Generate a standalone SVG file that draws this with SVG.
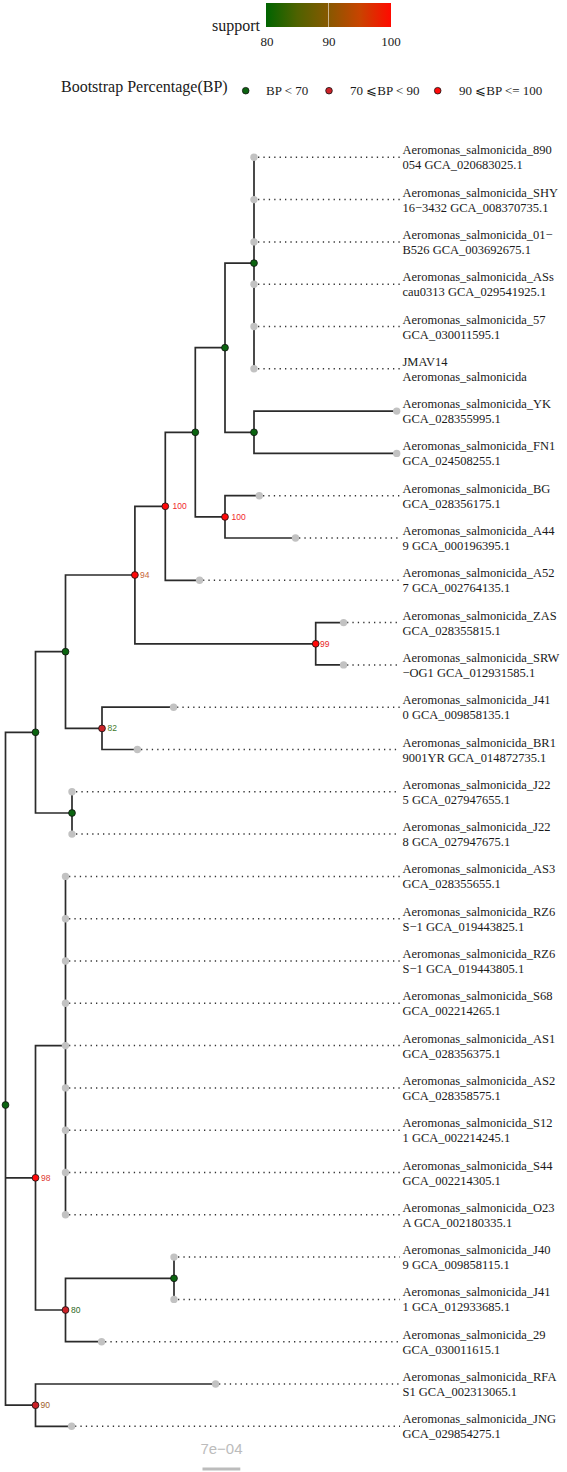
<svg xmlns="http://www.w3.org/2000/svg" width="567" height="1472" viewBox="0 0 567 1472">
<style>
.br{fill:none;stroke:#2b2b2b;stroke-width:1.7;stroke-linecap:square}
.dot{fill:none;stroke:#333333;stroke-width:1.5;stroke-dasharray:1.3 4.1}
.tip{fill:#c2c2c2}
.lab{font-family:"Liberation Serif","Times New Roman",serif;font-size:12.5px;fill:#1a1a1a}
.g{fill:#0b6410;stroke:#111;stroke-width:0.8}
.r{fill:#ff0a0a;stroke:#111;stroke-width:0.8}
.dr{fill:#cc2228;stroke:#111;stroke-width:0.8}
.bs{font-family:"Liberation Sans",Arial,sans-serif;font-size:8.5px}
.leg{font-family:"Liberation Serif","Times New Roman",serif;fill:#1a1a1a}
</style>
<defs>
<linearGradient id="sup" x1="0" y1="0" x2="1" y2="0">
<stop offset="0" stop-color="#006400"/>
<stop offset="0.25" stop-color="#4f6200"/>
<stop offset="0.5" stop-color="#875800"/>
<stop offset="0.75" stop-color="#c84400"/>
<stop offset="1" stop-color="#ff0a00"/>
</linearGradient>
</defs>

<g id="legend-support">
<text class="leg" x="212" y="31" font-size="16">support</text>
<rect x="266" y="3" width="125" height="24" fill="url(#sup)"/>
<line x1="328.5" y1="3" x2="328.5" y2="27" stroke="#ffffff" stroke-opacity="0.7" stroke-width="0.8"/>
<text class="leg" x="267" y="46" font-size="13" text-anchor="middle">80</text>
<text class="leg" x="329" y="46" font-size="13" text-anchor="middle">90</text>
<text class="leg" x="391" y="46" font-size="13" text-anchor="middle">100</text>
</g>

<g id="legend-bp">
<text class="leg" x="61" y="92" font-size="16">Bootstrap Percentage(BP)</text>
<circle class="g" cx="245.7" cy="90.7" r="3.3"/>
<text class="leg" x="266" y="95" font-size="13">BP &lt; 70</text>
<circle class="dr" cx="329" cy="90.7" r="3.3"/>
<text class="leg" x="350" y="95" font-size="13">70 ⩽BP &lt; 90</text>
<circle class="r" cx="437.7" cy="90.7" r="3.3"/>
<text class="leg" x="459" y="95" font-size="13">90 ⩽BP &lt;= 100</text>
</g>

<g id="connectors">
<path class="br" d="
M5.5 732.3V1405.2 M5.5 732.3H35.5 M5.5 1177.8H35.5 M5.5 1405.2H35.5
M35.5 651.7V813 M35.5 651.7H65.5 M35.5 813H72
M72 791.8V834.1
M65.5 575V728.4 M65.5 575H134.9 M65.5 728.4H102
M102 707.2V749.5 M102 707.2H173.6 M102 749.5H137.4
M134.9 506.3V643.8 M134.9 506.3H165.3 M134.9 643.8H315.7
M315.7 622.6V664.9 M315.7 622.6H343.6 M315.7 664.9H343.6
M165.3 432.3V580.3 M165.3 432.3H195.3 M165.3 580.3H199.6
M195.3 347.7V516.9 M195.3 347.7H225 M195.3 516.9H225
M225 263.1V432.3 M225 263.1H254 M225 432.3H254
M254 157.3V368.8
M254 411.1V453.4 M254 411.1H396.7 M254 453.4H396.7
M225 495.7V538 M225 495.7H259.3 M225 538H295.5
M35.5 1045.6V1310 M35.5 1045.6H65.5 M35.5 1310H65.5
M65.5 876.4V1214.8
M65.5 1278.3V1341.7 M65.5 1278.3H174 M65.5 1341.7H101.6
M174 1257.1V1299.4
M35.5 1384V1426.3 M35.5 1384H215.6 M35.5 1426.3H71.6"/>
<path class="dot" d="
M258 157.3H400 M258 199.6H400 M258 241.9H400 M258 284.2H400 M258 326.5H400 M258 368.8H400
M263 495.7H400 M299 538H400 M203 580.3H400 M347 622.6H400 M347 664.9H400
M177 707.2H400 M141 749.5H400 M76 791.8H400 M76 834.1H400
M69 876.4H400 M69 918.7H400 M69 961H400 M69 1003.3H400 M69 1045.6H400 M69 1087.9H400 M69 1130.2H400 M69 1172.5H400 M69 1214.8H400
M178 1257.1H400 M178 1299.4H400 M105 1341.7H400 M219 1384H400 M75 1426.3H400"/>
</g>

<g id="tips" class="lab">
<g id="t0"><circle class="tip" cx="254" cy="157.3" r="3.7"/><text x="402.5" y="154.3">Aeromonas_salmonicida_890<tspan x="402.5" dy="15">054 GCA_020683025.1</tspan></text></g>
<g id="t1"><circle class="tip" cx="254" cy="199.6" r="3.7"/><text x="402.5" y="196.6">Aeromonas_salmonicida_SHY<tspan x="402.5" dy="15">16−3432 GCA_008370735.1</tspan></text></g>
<g id="t2"><circle class="tip" cx="254" cy="241.9" r="3.7"/><text x="402.5" y="238.9">Aeromonas_salmonicida_01−<tspan x="402.5" dy="15">B526 GCA_003692675.1</tspan></text></g>
<g id="t3"><circle class="tip" cx="254" cy="284.2" r="3.7"/><text x="402.5" y="281.2">Aeromonas_salmonicida_ASs<tspan x="402.5" dy="15">cau0313 GCA_029541925.1</tspan></text></g>
<g id="t4"><circle class="tip" cx="254" cy="326.5" r="3.7"/><text x="402.5" y="323.5">Aeromonas_salmonicida_57<tspan x="402.5" dy="15">GCA_030011595.1</tspan></text></g>
<g id="t5"><circle class="tip" cx="254" cy="368.8" r="3.7"/><text x="402.5" y="365.8">JMAV14<tspan x="402.5" dy="15">Aeromonas_salmonicida</tspan></text></g>
<g id="t6"><circle class="tip" cx="396.7" cy="411.1" r="3.7"/><text x="402.5" y="408.1">Aeromonas_salmonicida_YK<tspan x="402.5" dy="15">GCA_028355995.1</tspan></text></g>
<g id="t7"><circle class="tip" cx="396.7" cy="453.4" r="3.7"/><text x="402.5" y="450.4">Aeromonas_salmonicida_FN1<tspan x="402.5" dy="15">GCA_024508255.1</tspan></text></g>
<g id="t8"><circle class="tip" cx="259.3" cy="495.7" r="3.7"/><text x="402.5" y="492.7">Aeromonas_salmonicida_BG<tspan x="402.5" dy="15">GCA_028356175.1</tspan></text></g>
<g id="t9"><circle class="tip" cx="295.5" cy="538" r="3.7"/><text x="402.5" y="535">Aeromonas_salmonicida_A44<tspan x="402.5" dy="15">9 GCA_000196395.1</tspan></text></g>
<g id="t10"><circle class="tip" cx="199.6" cy="580.3" r="3.7"/><text x="402.5" y="577.3">Aeromonas_salmonicida_A52<tspan x="402.5" dy="15">7 GCA_002764135.1</tspan></text></g>
<g id="t11"><circle class="tip" cx="343.6" cy="622.6" r="3.7"/><text x="402.5" y="619.6">Aeromonas_salmonicida_ZAS<tspan x="402.5" dy="15">GCA_028355815.1</tspan></text></g>
<g id="t12"><circle class="tip" cx="343.6" cy="664.9" r="3.7"/><text x="402.5" y="661.9">Aeromonas_salmonicida_SRW<tspan x="402.5" dy="15">−OG1 GCA_012931585.1</tspan></text></g>
<g id="t13"><circle class="tip" cx="173.6" cy="707.2" r="3.7"/><text x="402.5" y="704.2">Aeromonas_salmonicida_J41<tspan x="402.5" dy="15">0 GCA_009858135.1</tspan></text></g>
<g id="t14"><circle class="tip" cx="137.4" cy="749.5" r="3.7"/><text x="402.5" y="746.5">Aeromonas_salmonicida_BR1<tspan x="402.5" dy="15">9001YR GCA_014872735.1</tspan></text></g>
<g id="t15"><circle class="tip" cx="72" cy="791.8" r="3.7"/><text x="402.5" y="788.8">Aeromonas_salmonicida_J22<tspan x="402.5" dy="15">5 GCA_027947655.1</tspan></text></g>
<g id="t16"><circle class="tip" cx="72" cy="834.1" r="3.7"/><text x="402.5" y="831.1">Aeromonas_salmonicida_J22<tspan x="402.5" dy="15">8 GCA_027947675.1</tspan></text></g>
<g id="t17"><circle class="tip" cx="65.5" cy="876.4" r="3.7"/><text x="402.5" y="873.4">Aeromonas_salmonicida_AS3<tspan x="402.5" dy="15">GCA_028355655.1</tspan></text></g>
<g id="t18"><circle class="tip" cx="65.5" cy="918.7" r="3.7"/><text x="402.5" y="915.7">Aeromonas_salmonicida_RZ6<tspan x="402.5" dy="15">S−1 GCA_019443825.1</tspan></text></g>
<g id="t19"><circle class="tip" cx="65.5" cy="961" r="3.7"/><text x="402.5" y="958">Aeromonas_salmonicida_RZ6<tspan x="402.5" dy="15">S−1 GCA_019443805.1</tspan></text></g>
<g id="t20"><circle class="tip" cx="65.5" cy="1003.3" r="3.7"/><text x="402.5" y="1000.3">Aeromonas_salmonicida_S68<tspan x="402.5" dy="15">GCA_002214265.1</tspan></text></g>
<g id="t21"><circle class="tip" cx="65.5" cy="1045.6" r="3.7"/><text x="402.5" y="1042.6">Aeromonas_salmonicida_AS1<tspan x="402.5" dy="15">GCA_028356375.1</tspan></text></g>
<g id="t22"><circle class="tip" cx="65.5" cy="1087.9" r="3.7"/><text x="402.5" y="1084.9">Aeromonas_salmonicida_AS2<tspan x="402.5" dy="15">GCA_028358575.1</tspan></text></g>
<g id="t23"><circle class="tip" cx="65.5" cy="1130.2" r="3.7"/><text x="402.5" y="1127.2">Aeromonas_salmonicida_S12<tspan x="402.5" dy="15">1 GCA_002214245.1</tspan></text></g>
<g id="t24"><circle class="tip" cx="65.5" cy="1172.5" r="3.7"/><text x="402.5" y="1169.5">Aeromonas_salmonicida_S44<tspan x="402.5" dy="15">GCA_002214305.1</tspan></text></g>
<g id="t25"><circle class="tip" cx="65.5" cy="1214.8" r="3.7"/><text x="402.5" y="1211.8">Aeromonas_salmonicida_O23<tspan x="402.5" dy="15">A GCA_002180335.1</tspan></text></g>
<g id="t26"><circle class="tip" cx="174" cy="1257.1" r="3.7"/><text x="402.5" y="1254.1">Aeromonas_salmonicida_J40<tspan x="402.5" dy="15">9 GCA_009858115.1</tspan></text></g>
<g id="t27"><circle class="tip" cx="174" cy="1299.4" r="3.7"/><text x="402.5" y="1296.4">Aeromonas_salmonicida_J41<tspan x="402.5" dy="15">1 GCA_012933685.1</tspan></text></g>
<g id="t28"><circle class="tip" cx="101.6" cy="1341.7" r="3.7"/><text x="402.5" y="1338.7">Aeromonas_salmonicida_29<tspan x="402.5" dy="15">GCA_030011615.1</tspan></text></g>
<g id="t29"><circle class="tip" cx="215.6" cy="1384" r="3.7"/><text x="402.5" y="1381">Aeromonas_salmonicida_RFA<tspan x="402.5" dy="15">S1 GCA_002313065.1</tspan></text></g>
<g id="t30"><circle class="tip" cx="71.6" cy="1426.3" r="3.7"/><text x="402.5" y="1423.3">Aeromonas_salmonicida_JNG<tspan x="402.5" dy="15">GCA_029854275.1</tspan></text></g>
</g>

<g id="internal-nodes">
<g id="n-root"><circle class="g" cx="5.5" cy="1105" r="3.4"/></g>
<g id="n-a"><circle class="g" cx="35.5" cy="732.3" r="3.4"/></g>
<g id="n-b"><circle class="g" cx="65.5" cy="651.7" r="3.4"/></g>
<g id="n-j22"><circle class="g" cx="72" cy="813" r="3.4"/></g>
<g id="n-82"><circle class="dr" cx="102" cy="728.4" r="3.4"/><text class="bs" x="107.5" y="731.4" fill="#3f7a2c">82</text></g>
<g id="n-94"><circle class="r" cx="134.9" cy="575" r="3.4"/><text class="bs" x="140" y="578" fill="#c8653a">94</text></g>
<g id="n-99"><circle class="r" cx="315.7" cy="643.8" r="3.4"/><text class="bs" x="320" y="646.8" fill="#e8262a">99</text></g>
<g id="n-100a"><circle class="r" cx="165.3" cy="506.3" r="3.4"/><text class="bs" x="172.5" y="509.3" fill="#f0282a">100</text></g>
<g id="n-c"><circle class="g" cx="195.3" cy="432.3" r="3.4"/></g>
<g id="n-d"><circle class="g" cx="225" cy="347.7" r="3.4"/></g>
<g id="n-e"><circle class="g" cx="254" cy="263.1" r="3.4"/></g>
<g id="n-f"><circle class="g" cx="254" cy="432.3" r="3.4"/></g>
<g id="n-100b"><circle class="r" cx="225" cy="516.9" r="3.4"/><text class="bs" x="231.5" y="519.9" fill="#f0282a">100</text></g>
<g id="n-98"><circle class="r" cx="35.5" cy="1177.8" r="3.4"/><text class="bs" x="41" y="1180.8" fill="#e03a34">98</text></g>
<g id="n-80"><circle class="dr" cx="65.5" cy="1310" r="3.4"/><text class="bs" x="71" y="1313" fill="#2e6a26">80</text></g>
<g id="n-g"><circle class="g" cx="174" cy="1278.3" r="3.4"/></g>
<g id="n-90"><circle class="dr" cx="35.5" cy="1405.2" r="3.4"/><text class="bs" x="40.5" y="1408.2" fill="#a0602a">90</text></g>
</g>

<g id="scale-bar">
<text x="221.5" y="1453.5" text-anchor="middle" font-family="Liberation Sans, Arial, sans-serif" font-size="15" fill="#bcbcbc">7e−04</text>
<line x1="202.5" y1="1469" x2="240.3" y2="1469" stroke="#bcbcbc" stroke-width="3"/>
</g>
</svg>
